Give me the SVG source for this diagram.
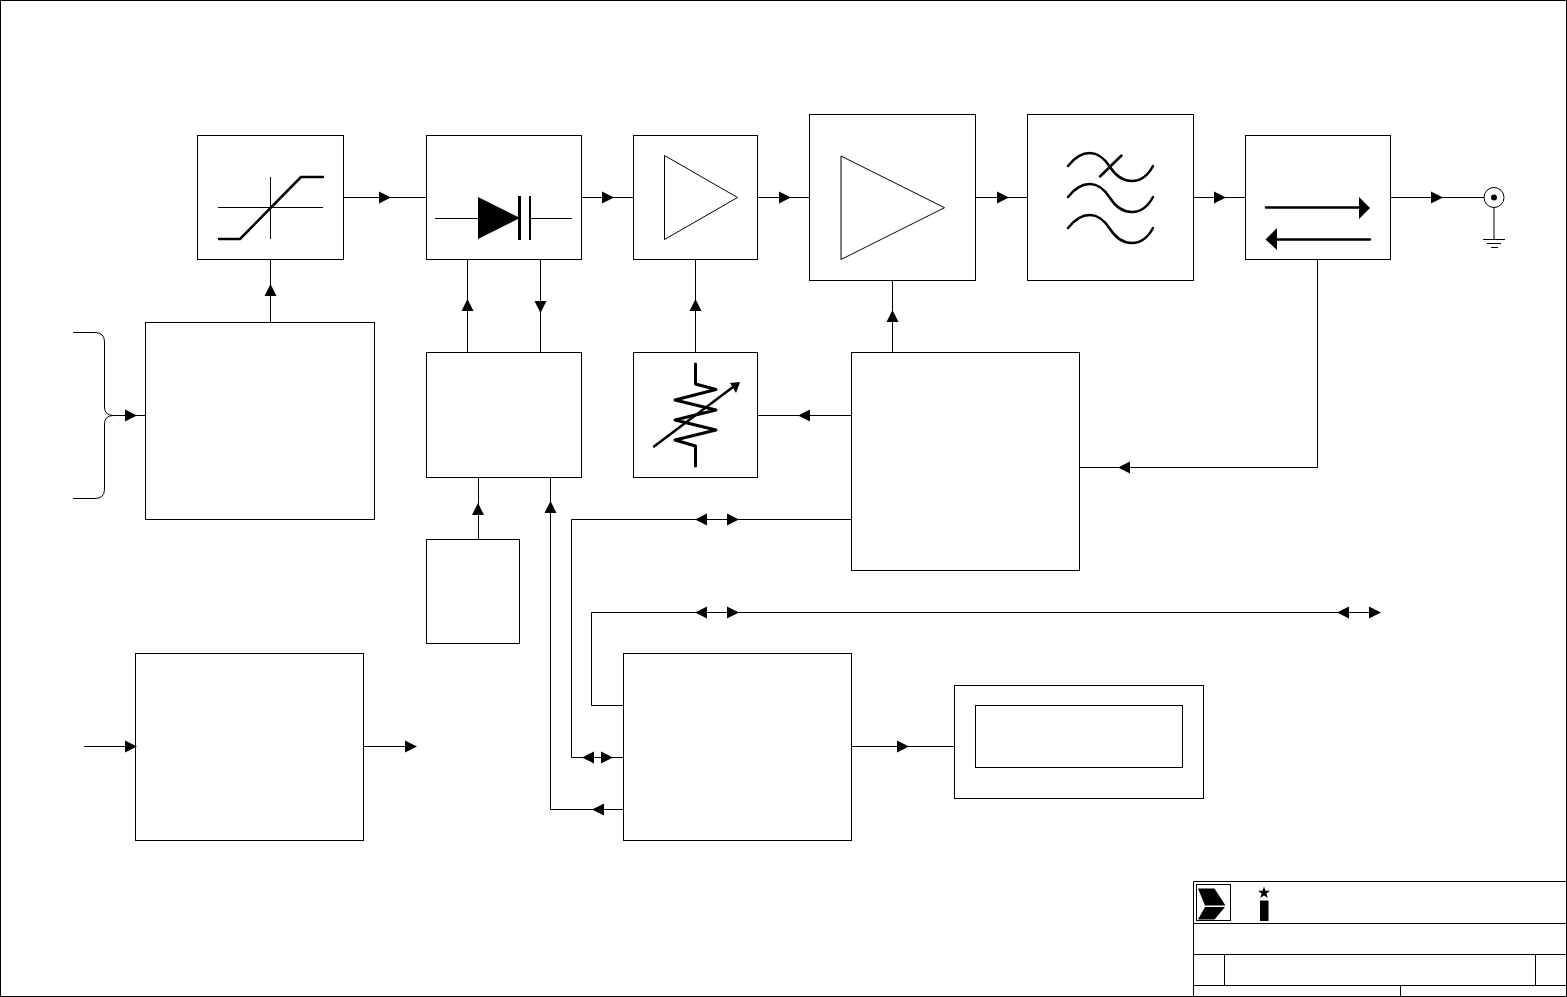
<svg xmlns="http://www.w3.org/2000/svg" width="1567" height="997" viewBox="0 0 1567 997">
<style>
.b{fill:none;stroke:#000;stroke-width:1}
.t{fill:none;stroke:#000;stroke-width:2.5;stroke-linecap:round;stroke-linejoin:round}
.k{fill:#000;stroke:none}
</style>
<defs>
<polygon id="r" class="k" points="-12,-6 0,0 -12,6"/>
<polygon id="l" class="k" points="12,-6 0,0 12,6"/>
<polygon id="u" class="k" points="-6,12 0,0 6,12"/>
<polygon id="d" class="k" points="-6,-12 0,0 6,-12"/>
<path id="w" class="t" d="M1068 166Q1078 153 1090 153Q1101 153 1110 167Q1119 181 1132 181Q1145 181 1153 166"/>
</defs>
<rect width="1567" height="997" fill="#fff"/>
<rect id="frame" class="b" x="0.5" y="0.5" width="1566" height="996"/>

<g id="connectors" class="b">
<path d="M343.5 197.5H426.5M581.5 197.5H633.5M757.5 197.5H809.5M975.5 197.5H1027.5M1193.5 197.5H1245.5M1390.5 197.5H1484"/>
<path d="M270.5 259.5V322.5M467.5 259.5V352.5M540.5 259.5V352.5M695.5 259.5V352.5M892.5 280.5V352.5"/>
<path d="M73 332.5H95Q104.500 332.500 104.500 342V407Q104.500 415.500 113.500 415.500H145.500M113.500 415.500Q104.500 415.500 104.500 424V489Q104.500 498.500 95 498.500H73"/>
<path d="M757.5 415.500H851.500M1079.500 467.500H1317.500V259.500"/>
<path d="M478.500 477.500V539.500M550.500 477.500V809.500H623.500"/>
<path d="M851.500 519.500H571.500V757.500H623.500"/>
<path d="M1370 612.500H591.500V705.500H623.500"/>
<path d="M84 746.500H135.500M363.500 746.500H406M851.500 746.500H954.500"/>
<g>
<use href="#r" x="391" y="197.500"/><use href="#r" x="614" y="197.500"/><use href="#r" x="791" y="197.500"/><use href="#r" x="1009" y="197.500"/><use href="#r" x="1226" y="197.500"/><use href="#r" x="1443" y="197.500"/>
<use href="#u" x="270.500" y="284"/><use href="#u" x="467.500" y="299"/><use href="#d" x="540.500" y="313"/><use href="#u" x="695.500" y="299"/><use href="#u" x="892.500" y="310"/>
<use href="#r" x="137" y="415.500"/><use href="#l" x="798" y="415.500"/><use href="#l" x="1118" y="467.500"/>
<use href="#u" x="478" y="503"/><use href="#u" x="550.500" y="501"/>
<use href="#l" x="695" y="519.500"/><use href="#r" x="739" y="519.500"/>
<use href="#l" x="695" y="612.500"/><use href="#r" x="739" y="612.500"/><use href="#l" x="1337" y="612.500"/><use href="#r" x="1381" y="612.500"/>
<use href="#l" x="582" y="757.500"/><use href="#r" x="613" y="757.500"/><use href="#l" x="592" y="809.500"/>
<use href="#r" x="137" y="746.500"/><use href="#r" x="417" y="746.500"/><use href="#r" x="909" y="746.500"/>
</g>
</g>

<g id="limiter"><rect class="b" x="197.500" y="135.500" width="146" height="124"/>
<path class="b" d="M218 207.500H323M270.500 177V239"/><path class="t" d="M219 239H240L301 177H323"/></g>
<g id="modulator"><rect class="b" x="426.500" y="135.500" width="155" height="124"/>
<path class="b" d="M435 218.500H478M530 218.500H572"/><polygon class="k" points="478,197 520,218 478,239"/>
<rect class="k" x="518" y="196" width="3" height="44"/><rect class="k" x="529" y="196" width="2" height="44"/></g>
<g id="driver-amp"><rect class="b" x="633.500" y="135.500" width="124" height="124"/><polygon class="b" points="664.500,155.500 737.500,197.500 664.500,239.500"/></g>
<g id="power-amp"><rect class="b" x="809.500" y="114.500" width="166" height="166"/><polygon class="b" points="841,156 944.500,207.700 841,259.500"/></g>
<g id="filter"><rect class="b" x="1027.500" y="114.500" width="166" height="166"/>
<use href="#w"/><use href="#w" y="31"/><use href="#w" y="62"/><path class="t" d="M1100 176.500L1121.500 155.500"/></g>
<g id="isolator"><rect class="b" x="1245.500" y="135.500" width="145" height="124"/>
<path class="t" d="M1266 207.500H1360M1370 239.500H1276"/>
<polygon class="k" points="1359,197 1370,208 1359,219"/><polygon class="k" points="1277,228 1265.500,239.500 1277,250"/></g>
<g id="antenna"><circle class="b" cx="1494" cy="197.500" r="10" fill="#fff"/><circle class="k" cx="1494" cy="197.500" r="3"/>
<path class="b" d="M1494 207.500V239.500M1483 239.500H1505M1487 243.500H1501M1491 247.500H1498"/></g>
<g id="block-input"><rect class="b" x="145.500" y="322.500" width="229" height="197"/></g>
<g id="block-bias"><rect class="b" x="426.500" y="352.500" width="155" height="125"/></g>
<g id="attenuator"><rect class="b" x="633.500" y="352.500" width="124" height="125"/>
<path class="t" style="stroke-width:3" d="M695.500 364V384L716 389.500L675 400L716 410L675 420L716 430L675 440L695.500 446V466"/>
<path class="t" d="M654 446.500L733 387"/><polygon class="k" points="740,382 730,383 736,393"/></g>
<g id="block-control"><rect class="b" x="851.500" y="352.500" width="228" height="218"/></g>
<g id="block-small"><rect class="b" x="426.500" y="539.500" width="93" height="104"/></g>
<g id="block-left"><rect class="b" x="135.500" y="653.500" width="228" height="187"/></g>
<g id="block-mcu"><rect class="b" x="623.500" y="653.500" width="228" height="187"/></g>
<g id="display"><rect class="b" x="954.500" y="685.500" width="249" height="113"/><rect class="b" x="975.500" y="705.500" width="207" height="62"/></g>
<g id="title-block">
<path class="b" d="M1566.500 881.500H1193.500V996.500M1193.500 923.500H1566.500M1193.500 954.500H1566.500M1193.500 985.500H1566.500M1224.500 954.500V985.500M1535.500 954.500V985.500M1400.500 985.500V996.500"/>
<rect class="b" x="1196.500" y="884.500" width="34" height="36"/>
<polygon class="k" points="1198,888.500 1214.500,888.500 1225.500,905.500 1205,905.500"/>
<polygon class="k" points="1205,907 1225,907 1214.500,919.500 1198,919.500"/>
<rect class="k" x="1260" y="900.500" width="8.500" height="20.500"/>
<polygon class="k" points="1264,886.500 1265.500,890.800 1270,890.800 1266.400,893.600 1267.700,898 1264,895.400 1260.300,898 1261.600,893.600 1258,890.800 1262.500,890.800"/>
</g>
</svg>
